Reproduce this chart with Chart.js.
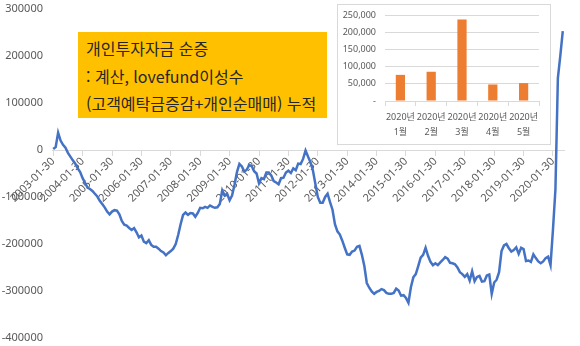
<!DOCTYPE html>
<html lang="ko">
<head>
<meta charset="utf-8">
<script src="https://cdn.jsdelivr.net/npm/chart.js@4/dist/chart.umd.min.js"></script>
<style>
  body { margin: 0; background: #fff; }
  #wrap { position: relative; width: 580px; height: 346px; }
  #note {
    position: absolute; left: 78px; top: 32px; width: 249px; height: 86px;
    background: #ffc000; box-sizing: border-box; padding: 3px 8px;
    font: 16px "Noto Sans CJK KR", sans-serif; color: #262626; line-height: 27.5px;
    white-space: nowrap;
  }
  #inset {
    position: absolute; left: 337px; top: 4px; width: 214px; height: 141px;
    background: #fff; border: 1px solid #d9d9d9; box-sizing: border-box;
  }
  #inset canvas { display: block; }
</style>
</head>
<body>
<div id="wrap">
  <canvas id="main" width="580" height="346"></canvas>
  <div id="note">개인투자자금 순증<br>: 계산, lovefund이성수<br>(고객예탁금증감+개인순매매) 누적</div>
  <div id="inset"><canvas id="monthly" width="212" height="139"></canvas></div>
</div>
<script>
// months 2003-01 .. 2020-05
const years = [2003, 2004, 2005, 2006, 2007, 2008, 2009, 2010, 2011, 2012,
               2013, 2014, 2015, 2016, 2017, 2018, 2019, 2020];
const lastMonth = 5;

// cumulative net inflow, one value per month
const netFlow = [
  // 2003
  2000, 6000, 37000, 20000, 11000, 5000, -6000, -14000, -22000, -29000, -39000, -47000,
  // 2004
  -60000, -70000, -80000, -83000, -87000, -93000, -99000, -108000, -115000, -122000, -131000, -137000,
  // 2005
  -131000, -128000, -129000, -137000, -151000, -159000, -161000, -166000, -170000, -166000, -175000, -186000,
  // 2006
  -182000, -195000, -198000, -192000, -202000, -206000, -206000, -210000, -215000, -218000, -224000, -219000,
  // 2007
  -215000, -210000, -200000, -181000, -158000, -138000, -133000, -138000, -134000, -135000, -142000, -134000,
  // 2008
  -123000, -124000, -121000, -123000, -118000, -121000, -123000, -122000, -115000, -86000, -97000, -93000,
  // 2009
  -107000, -97000, -74000, -47000, -29500, -35000, -46000, -42000, -32000, -34000, -45000, -50000,
  // 2010
  -71000, -60000, -62000, -48000, -48000, -54000, -66000, -69000, -73000, -60000, -59000, -48000,
  // 2011
  -44000, -49000, -39000, -43000, -29000, -30000, -19000, -1000, -14000, -26000, -43000, -72000,
  // 2012
  -100000, -112000, -112000, -100000, -93000, -111000, -127000, -158000, -173000, -180000, -193000, -208000,
  // 2013
  -222000, -223000, -216000, -214000, -206000, -204000, -223000, -247000, -283000, -293000, -301000, -306000,
  // 2014
  -302000, -300000, -296000, -298000, -304000, -306000, -306000, -304000, -295000, -299000, -310000, -309000,
  // 2015
  -315000, -325000, -292000, -271000, -264000, -247000, -229000, -223000, -208000, -225000, -238000, -245000,
  // 2016
  -241000, -245000, -239000, -234000, -228000, -231000, -240000, -241000, -243000, -250000, -260000, -264000,
  // 2017
  -270000, -264000, -278000, -258000, -279000, -270000, -268000, -280000, -279000, -267000, -265000, -306000,
  // 2018
  -282000, -276000, -260000, -215000, -203000, -200000, -209000, -216000, -213000, -207000, -221000, -208000,
  // 2019
  -211000, -236000, -235000, -238000, -222000, -230000, -237000, -241000, -237000, -230000, -227000, -245000,
  // 2020
  -169000, -84000, 153000, 201000, 253000
];

const yTicksMain = { min: -400000, max: 300000, step: 100000 };

// 2020 monthly increase (inset)
const insetCategories = [['2020년', '1월'], ['2020년', '2월'], ['2020년', '3월'], ['2020년', '4월'], ['2020년', '5월']];
const insetValues = [76000, 85000, 237000, 48000, 52000];
const yTicksInset = { min: 0, max: 250000, step: 50000 };

const categories = [];
years.forEach(y => {
  for (let m = 1; m <= 12; m++) {
    if (y === years[years.length - 1] && m > lastMonth) break;
    categories.push(y + '-' + String(m).padStart(2, '0') + '-30');
  }
});

const grey = '#595959';
const lineGrey = '#d9d9d9';
const labelFont = { family: "'Noto Sans', 'Noto Sans CJK KR', sans-serif", size: 11 };

// gap between value labels and plot is made with an invisible tick mark,
// since ticks.padding also pads the top and bottom of the axis
const hiddenTicks = gap => ({
  display: true, drawOnChartArea: false, drawTicks: true, tickLength: gap, color: 'rgba(0,0,0,0)'
});

new Chart(document.getElementById('main'), {
  type: 'line',
  data: {
    labels: categories,
    datasets: [{
      data: netFlow,
      borderColor: '#4472c4',
      borderWidth: 2.5,
      pointRadius: 0,
      tension: 0,
      fill: false
    }]
  },
  options: {
    responsive: false,
    animation: false,
    layout: { padding: { top: 9, right: 16, bottom: 8, left: 0 } },
    plugins: { legend: { display: false }, tooltip: { enabled: false } },
    scales: {
      x: {
        type: 'category',
        offset: true,
        position: { y: 0 },
        border: { color: lineGrey, width: 1 },
        grid: { drawOnChartArea: false, drawTicks: true, tickLength: 5, color: lineGrey },
        ticks: {
          autoSkip: false,
          minRotation: 45,
          maxRotation: 45,
          padding: 0,
          color: grey,
          font: labelFont,
          callback: function (v, i) {
            return i % 12 === 0 ? this.getLabelForValue(v) : null;
          }
        }
      },
      y: {
        min: yTicksMain.min,
        max: yTicksMain.max,
        border: { display: false },
        grid: hiddenTicks(9),
        ticks: {
          stepSize: yTicksMain.step,
          padding: 0,
          color: grey,
          font: labelFont,
          callback: v => String(v)
        },
        afterFit: s => { s.width = 52; }
      }
    }
  }
});

new Chart(document.getElementById('monthly'), {
  type: 'bar',
  data: {
    labels: insetCategories,
    datasets: [{
      data: insetValues,
      backgroundColor: '#ed7d31',
      categoryPercentage: 1,
      barPercentage: 0.3
    }]
  },
  options: {
    responsive: false,
    animation: false,
    layout: { padding: { top: 10, right: 11, bottom: 0, left: 0 } },
    plugins: { legend: { display: false }, tooltip: { enabled: false } },
    scales: {
      x: {
        border: { color: lineGrey },
        grid: { drawOnChartArea: false, tickLength: 5, color: lineGrey, offset: true },
        ticks: {
          autoSkip: false,
          maxRotation: 0,
          padding: 4,
          color: grey,
          font: { family: "'Noto Sans', 'Noto Sans CJK KR', sans-serif", size: 9, lineHeight: 1.65 }
        },
        afterFit: s => { s.height = 43; }
      },
      y: {
        min: yTicksInset.min,
        max: yTicksInset.max,
        border: { display: false },
        grid: {
          color: ctx => ctx.tick ? lineGrey : 'rgba(0,0,0,0)',
          drawTicks: true,
          tickLength: 9,
          tickColor: 'rgba(0,0,0,0)'
        },
        ticks: {
          stepSize: yTicksInset.step,
          padding: 0,
          color: grey,
          font: { family: "'Noto Sans', sans-serif", size: 9 },
          callback: v => v === 0 ? '-' : v.toLocaleString('en-US')
        },
        afterFit: s => { s.width = 47; }
      }
    }
  }
});
</script>
</body>
</html>
